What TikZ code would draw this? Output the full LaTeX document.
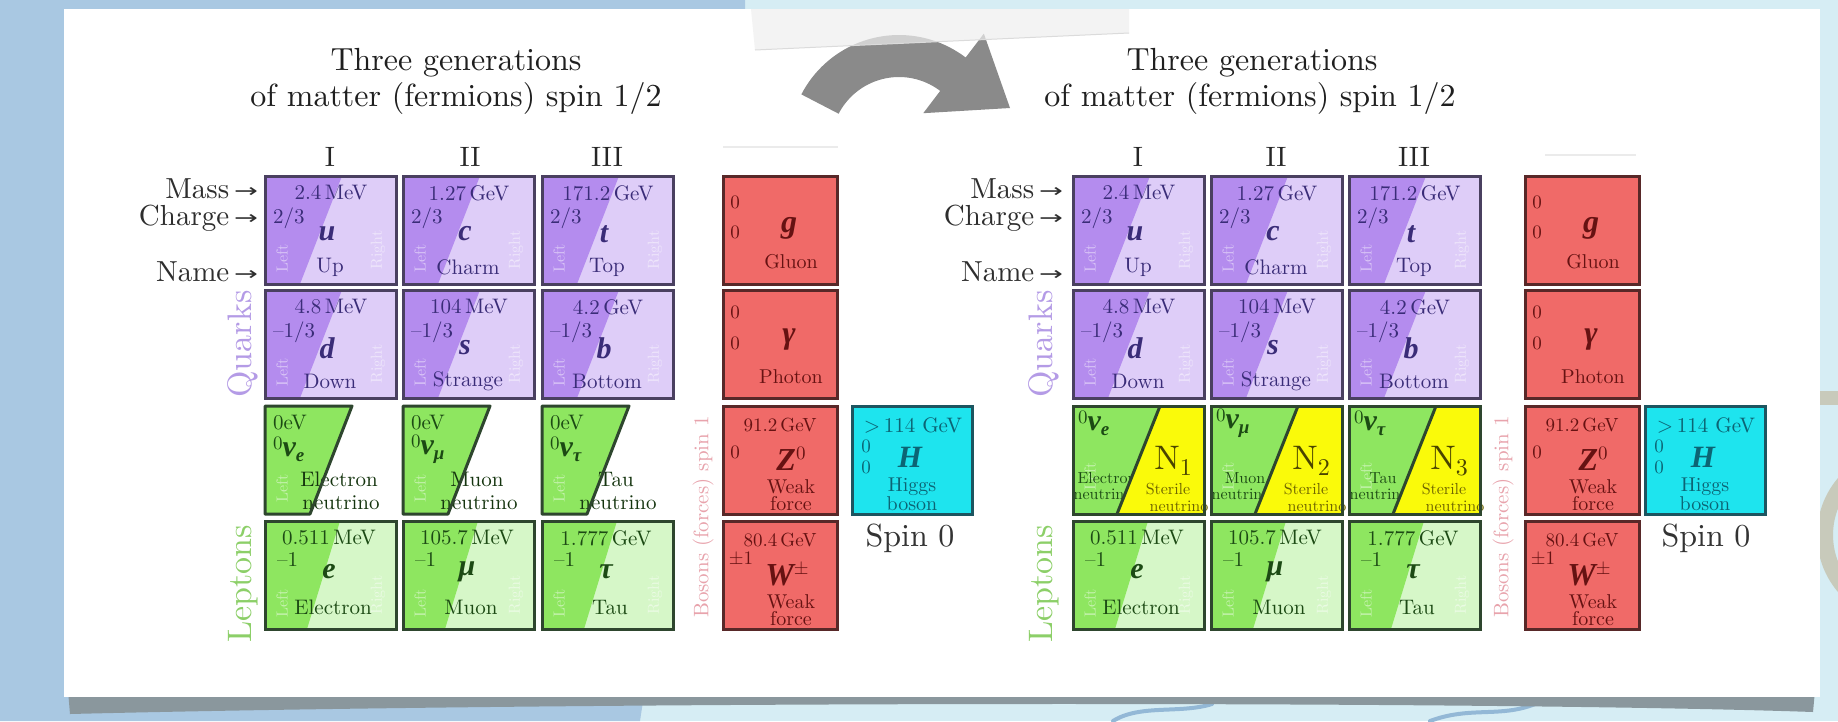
\documentclass[tikz,border=0pt]{standalone}
\usepackage{fontspec}
\usepackage{graphicx}
\setmainfont{lmroman10-regular.otf}[ItalicFont=lmroman10-italic.otf, BoldFont=lmroman10-bold.otf, BoldItalicFont=lmroman10-bolditalic.otf]
\newfontfamily\symfont{Liberation Serif}
\newfontfamily\arrowfont{DejaVu Sans}
\definecolor{qdark}{HTML}{B48CEE}
\definecolor{qlight}{HTML}{DECDF8}
\definecolor{qborder}{HTML}{4A4060}
\definecolor{qtext}{HTML}{3A2C78}
\definecolor{ldark}{HTML}{8EE660}
\definecolor{llight}{HTML}{D6F7C8}
\definecolor{lborder}{HTML}{2E462E}
\definecolor{ltext}{HTML}{1C4A14}
\definecolor{bred}{HTML}{F06A68}
\definecolor{bborder}{HTML}{582828}
\definecolor{btext}{HTML}{661212}
\definecolor{hcyan}{HTML}{1EE4EE}
\definecolor{hborder}{HTML}{1D5560}
\definecolor{htext}{HTML}{0C6474}
\definecolor{nyellow}{HTML}{FAFA0A}
\definecolor{ntext}{HTML}{6E6400}
\definecolor{nlet}{HTML}{4A4400}
\definecolor{bgblue}{HTML}{A9C8E2}
\definecolor{bgcyan}{HTML}{D6EDF4}
\definecolor{quarkcol}{HTML}{B49BE6}
\definecolor{leptoncol}{HTML}{8CCF68}
\definecolor{bosoncol}{HTML}{E8A3AC}
\definecolor{arrowgray}{HTML}{8A8A8A}
\definecolor{tabgray}{HTML}{EEEEEE}
\definecolor{shadowgray}{HTML}{8A979D}
\definecolor{beige}{HTML}{C8CABB}
\definecolor{squig}{HTML}{93B8D6}

\newcommand{\Sym}[1]{{\symfont\bfseries\itshape #1}}
\newcommand{\Sub}[1]{\raisebox{-5pt}{\fontsize{19}{19}\selectfont #1}}
\newcommand{\Sup}[1]{\raisebox{11pt}{\fontsize{19}{19}\selectfont #1}}
\newcommand{\Arr}{\,\raisebox{1pt}{\scalebox{1.5}[1]{\arrowfont\fontsize{19}{19}\selectfont →}}}

\tikzset{
  every node/.style={inner sep=0pt, outer sep=0pt},
  titletxt/.style={font=\fontsize{32}{36}\selectfont, text=black!88},
  numtxt/.style={font=\fontsize{28}{28}\selectfont, text=black!85},
  rowtxt/.style={font=\fontsize{29}{29}\selectfont, text=black!82, anchor=east},
  masstxt/.style={font=\fontsize{21}{21}\selectfont},
  symtxt/.style={font=\fontsize{30}{30}\selectfont},
  nametxt/.style={font=\fontsize{21}{24}\selectfont},
  smalltxt/.style={font=\fontsize{16}{16}\selectfont},
  faint/.style={rotate=90, font=\fontsize{16}{16}\selectfont, text=white, text opacity=0.5},
  qframe/.style={draw=qborder, line width=3pt, minimum width=131pt, minimum height=108pt, anchor=north west},
  lframe/.style={draw=lborder, line width=3pt, minimum width=131pt, minimum height=108pt, anchor=north west},
  rbox/.style={draw=bborder, fill=bred, line width=3pt, minimum width=114pt, minimum height=108pt, anchor=north west},
  hbox/.style={draw=hborder, fill=hcyan, line width=3pt, minimum width=120pt, minimum height=108pt, anchor=north west},
  rsmall/.style={font=\fontsize{19}{19}\selectfont, text=btext},
  rsym/.style={font=\fontsize{32}{32}\selectfont, text=btext},
  rname/.style={font=\fontsize{20}{20}\selectfont, text=btext},
  hsmall/.style={font=\fontsize{19}{19}\selectfont, text=htext},
  grouplab/.style={rotate=90, font=\fontsize{34}{34}\selectfont},
  bosonlab/.style={rotate=90, font=\fontsize{21}{21}\selectfont, text=bosoncol},
  spinlab/.style={font=\fontsize{32}{32}\selectfont, text=black!80},
}

% quark box: name, x, y, mass, charge, symbol, label
\newcommand{\QBox}[7]{%
  \fill[qlight] (#2,#3) rectangle ++(131,108);
  \fill[qdark] (#2,#3) -- ++(77,0) -- ++(-42,108) -- ++(-35,0) -- cycle;
  \path (#2,#3) ++(17,82) node[faint] (#1-l) {Left};
  \path (#2,#3) ++(113,74) node[faint] (#1-r) {Right};
  \node[qframe] (#1) at (#2,#3) {};
  \path (#2,#3) ++(66,17) node[masstxt,text=qtext] (#1-m) {#4};
  \path (#2,#3) ++(8,42) node[masstxt,text=qtext,anchor=west] (#1-c) {#5};
  \path (#2,#3) ++(62,58) node[symtxt,text=qtext] (#1-s) {\Sym{#6}};
  \path (#2,#3) ++(65,91) node[nametxt,text=qtext] (#1-n) {#7};
}
% lepton box
\newcommand{\LBox}[7]{%
  \fill[llight] (#2,#3) rectangle ++(131,108);
  \fill[ldark] (#2,#3) -- ++(75,0) -- ++(-33,108) -- ++(-42,0) -- cycle;
  \path (#2,#3) ++(17,82) node[faint] (#1-l) {Left};
  \path (#2,#3) ++(113,74) node[faint] (#1-r) {Right};
  \node[lframe] (#1) at (#2,#3) {};
  \path (#2,#3) ++(64,17) node[masstxt,text=ltext] (#1-m) {#4};
  \path (#2,#3) ++(12,38) node[masstxt,text=ltext,anchor=west] (#1-c) {#5};
  \path (#2,#3) ++(64,51) node[symtxt,text=ltext] (#1-s) {\Sym{#6}};
  \path (#2,#3) ++(68,86) node[nametxt,text=ltext] (#1-n) {#7};
}
% neutrino, original chart: name, x, y, subscript, label
\newcommand{\NuOld}[5]{%
  \fill[ldark] (#2,#3) -- ++(87,0) -- ++(-42,108) -- ++(-45,0) -- cycle;
  \path (#2,#3) ++(17,82) node[faint] (#1-l) {Left};
  \path (#2,#3) ++(8,17) node[masstxt,text=ltext,anchor=west] (#1-m) {0eV};
  \path (#2,#3) ++(8,43) node[symtxt,text=ltext,anchor=west] (#1-s) {\raisebox{7pt}{\fontsize{19}{19}\selectfont 0}\Sym{ν}\Sub{\Sym{#4}}};
  \path (#2,#3) ++(74,73) node[nametxt,text=ltext!70!black] (#1-n1) {#5};
  \path (#2,#3) ++(76,97) node[nametxt,text=ltext!70!black] (#1-n2) {neutrino};
  \draw[lborder,line width=3pt,line join=round] (#2,#3) -- ++(87,0) -- ++(-42,108) -- ++(-45,0) -- cycle;
  \coordinate (#1) at (#2,#3);
}
% neutrino, extended chart: name, x, y, subscript, label, index
\newcommand{\NuNew}[6]{%
  \fill[ldark] (#2,#3) rectangle ++(131,108);
  \path (#2,#3) ++(17,70) node[faint] (#1-l) {Left};
  \path (#2,#3) ++(5,17) node[symtxt,text=ltext,anchor=west] (#1-s) {\raisebox{7pt}{\fontsize{19}{19}\selectfont 0}\Sym{ν}\Sub{\Sym{#4}}};
  \path (#2,#3) ++(34,72) node[smalltxt,text=ltext] (#1-n1) {#5};
  \path (#2,#3) ++(30,88) node[smalltxt,text=ltext] (#1-n2) {neutrino};
  \fill[nyellow] (#2,#3) ++(87,0) -- ++(44,0) -- ++(0,108) -- ++(-87,0) -- cycle;
  \path (#2,#3) ++(100,55) node[font=\fontsize{34}{34}\selectfont,text=nlet] (#1-N) {N\raisebox{-6pt}{\fontsize{24}{24}\selectfont #6}};
  \path (#2,#3) ++(95,83) node[smalltxt,text=ntext] (#1-st1) {Sterile};
  \path (#2,#3) ++(106,100) node[smalltxt,text=ntext] (#1-st2) {neutrino};
  \draw[lborder,line width=3pt] (#2,#3) ++(87,0) -- ++(-43,108);
  \node[lframe] (#1) at (#2,#3) {};
}
\newcommand{\GluonBox}[3]{%
  \node[rbox] (#1) at (#2,#3) {};
  \path (#2,#3) ++(12,26) node[rsmall] (#1-m) {0};
  \path (#2,#3) ++(12,56) node[rsmall] (#1-c) {0};
  \path (#2,#3) ++(66,52) node[rsym] (#1-s) {\Sym{g}};
  \path (#2,#3) ++(68,86) node[rname] (#1-n) {Gluon};
}
\newcommand{\PhotonBox}[3]{%
  \node[rbox] (#1) at (#2,#3) {};
  \path (#2,#3) ++(12,22) node[rsmall] (#1-m) {0};
  \path (#2,#3) ++(12,53) node[rsmall] (#1-c) {0};
  \path (#2,#3) ++(66,50) node[rsym] (#1-s) {\Sym{γ}};
  \path (#2,#3) ++(68,87) node[rname] (#1-n) {Photon};
}
\newcommand{\ZBox}[3]{%
  \node[rbox] (#1) at (#2,#3) {};
  \path (#2,#3) ++(57,19) node[rsmall] (#1-m) {91.2\,GeV};
  \path (#2,#3) ++(12,46) node[rsmall] (#1-c) {0};
  \path (#2,#3) ++(68,53) node[rsym] (#1-s) {\Sym{Z}\Sup{0}};
  \path (#2,#3) ++(68,81) node[rname] (#1-n1) {Weak};
  \path (#2,#3) ++(68,98) node[rname] (#1-n2) {force};
}
\newcommand{\WBox}[3]{%
  \node[rbox] (#1) at (#2,#3) {};
  \path (#2,#3) ++(57,19) node[rsmall] (#1-m) {80.4\,GeV};
  \path (#2,#3) ++(18,37) node[rsmall] (#1-c) {±1};
  \path (#2,#3) ++(64,53) node[rsym] (#1-s) {\Sym{W}\Sup{±}};
  \path (#2,#3) ++(68,81) node[rname] (#1-n1) {Weak};
  \path (#2,#3) ++(68,98) node[rname] (#1-n2) {force};
}
\newcommand{\HiggsBox}[3]{%
  \node[hbox] (#1) at (#2,#3) {};
  \path (#2,#3) ++(61,20) node[font=\fontsize{21}{21}\selectfont,text=htext] (#1-m) {>\,114 GeV};
  \path (#2,#3) ++(14,40) node[hsmall] (#1-c) {0};
  \path (#2,#3) ++(14,61) node[hsmall] (#1-sp) {0};
  \path (#2,#3) ++(58,51) node[font=\fontsize{31}{31}\selectfont,text=htext] (#1-s) {\Sym{H}};
  \path (#2,#3) ++(60,81) node[font=\fontsize{20}{20}\selectfont,text=htext] (#1-n1) {Higgs};
  \path (#2,#3) ++(60,98) node[font=\fontsize{20}{20}\selectfont,text=htext] (#1-n2) {boson};
}

\begin{document}
\begin{tikzpicture}[x=1pt,y=-1pt]
\useasboundingbox (0,0) rectangle (1838,721);
% background
\fill[bgcyan] (0,0) rectangle (1838,721);
\fill[bgblue] (0,0) -- (745,0) -- (745,30) -- (640,721) -- (0,721) -- cycle;
\draw[squig, line width=4pt, line cap=round] (1113,721) .. controls (1140,704) and (1180,714) .. (1212,704);
\draw[squig, line width=4pt, line cap=round] (1430,721) .. controls (1470,706) and (1500,718) .. (1535,704) .. controls (1555,698) .. (1578,702);
\fill[beige] (1820,391) rectangle (1838,405);
\draw[beige, line width=16pt] (1905,535) circle (80);
% shadow and panel
\fill[shadowgray] (68,690) -- (1815,690) -- (1813,712) .. controls (1500,701) and (600,701) .. (70,714) -- cycle;
\fill[white] (64,9) rectangle (1820,697);
% curved arrow
\fill[arrowgray] plot[domain=152.6:52.7, samples=40] ({899+110*cos(\x)},{145-110*sin(\x)})
  -- ({899+140*cos(52.7)},{145-140*sin(52.7)}) -- (1010,108)
  -- ({899+40*cos(52.7)},{145-40*sin(52.7)})
  -- plot[domain=52.7:152.6, samples=40] ({899+68*cos(\x)},{145-68*sin(\x)}) -- cycle;
% tape tab (over the arrow)
\fill[tabgray, fill opacity=0.7] (751,9) -- (1129,9) -- (1129,33) -- (755,50) -- cycle;
\draw[black!14, line width=1pt] (1129,33) -- (755,50);
% faint lines above gluon boxes
\draw[black!8, line width=2pt] (723,147) -- (838,147);
\draw[black!8, line width=2pt] (1545,155) -- (1636,155);

% ===== left chart =====
\node[titletxt] (ttlL1) at (456,63) {Three generations};
\node[titletxt] (ttlL2) at (456,98) {of matter (fermions) spin 1/2};
\node[numtxt] (g1L) at (330,157) {I};
\node[numtxt] (g2L) at (470,157) {II};
\node[numtxt] (g3L) at (607,157) {III};
\node[rowtxt] (massL) at (258,189) {Mass\Arr};
\node[rowtxt] (chargeL) at (258,218) {Charge\Arr};
\node[rowtxt] (nameL) at (258,272) {Name\Arr};
\node[grouplab, text=quarkcol] (quarksL) at (243,344) {Quarks};
\node[grouplab, text=leptoncol] (leptonsL) at (243,584) {Leptons};
\node[bosonlab] (bosonsL) at (703,517) {Bosons (forces) spin 1};

\QBox{uL}{265}{176}{2.4\,MeV}{2/3}{u}{Up}
\QBox{cL}{403}{176}{1.27\,GeV}{2/3}{c}{Charm}
\QBox{tL}{542}{176}{171.2\,GeV}{2/3}{t}{Top}
\QBox{dL}{265}{290}{4.8\,MeV}{–1/3}{d}{Down}
\QBox{sL}{403}{290}{104\,MeV}{–1/3}{s}{Strange}
\QBox{bL}{542}{290}{4.2\,GeV}{–1/3}{b}{Bottom}
\NuOld{neL}{265}{406}{e}{Electron}
\NuOld{nmL}{403}{406}{μ}{Muon}
\NuOld{ntL}{542}{406}{τ}{Tau}
\LBox{eL}{265}{521}{0.511\,MeV}{–1}{e}{Electron}
\LBox{mL}{403}{521}{105.7\,MeV}{–1}{μ}{Muon}
\LBox{taL}{542}{521}{1.777\,GeV}{–1}{τ}{Tau}
\GluonBox{gL}{723}{176}
\PhotonBox{phL}{723}{290}
\ZBox{zL}{723}{406}
\WBox{wL}{723}{521}
\HiggsBox{hL}{852}{406}
\node[spinlab] (spinL) at (910,538) {Spin 0};

% ===== right chart =====
\node[titletxt] (ttlR1) at (1252,63) {Three generations};
\node[titletxt] (ttlR2) at (1250,98) {of matter (fermions) spin 1/2};
\node[numtxt] (g1R) at (1138,157) {I};
\node[numtxt] (g2R) at (1276,157) {II};
\node[numtxt] (g3R) at (1414,157) {III};
\node[rowtxt] (massR) at (1063,189) {Mass\Arr};
\node[rowtxt] (chargeR) at (1063,218) {Charge\Arr};
\node[rowtxt] (nameR) at (1063,272) {Name\Arr};
\node[grouplab, text=quarkcol] (quarksR) at (1044,344) {Quarks};
\node[grouplab, text=leptoncol] (leptonsR) at (1044,584) {Leptons};
\node[bosonlab] (bosonsR) at (1503,517) {Bosons (forces) spin 1};

\QBox{uR}{1073}{176}{2.4\,MeV}{2/3}{u}{Up}
\QBox{cR}{1211}{176}{1.27\,GeV}{2/3}{c}{Charm}
\QBox{tR}{1349}{176}{171.2\,GeV}{2/3}{t}{Top}
\QBox{dR}{1073}{290}{4.8\,MeV}{–1/3}{d}{Down}
\QBox{sR}{1211}{290}{104\,MeV}{–1/3}{s}{Strange}
\QBox{bR}{1349}{290}{4.2\,GeV}{–1/3}{b}{Bottom}
\NuNew{neR}{1073}{406}{e}{Electron}{1}
\NuNew{nmR}{1211}{406}{μ}{Muon}{2}
\NuNew{ntR}{1349}{406}{τ}{Tau}{3}
\LBox{eR}{1073}{521}{0.511\,MeV}{–1}{e}{Electron}
\LBox{mR}{1211}{521}{105.7\,MeV}{–1}{μ}{Muon}
\LBox{taR}{1349}{521}{1.777\,GeV}{–1}{τ}{Tau}
\GluonBox{gR}{1525}{176}
\PhotonBox{phR}{1525}{290}
\ZBox{zR}{1525}{406}
\WBox{wR}{1525}{521}
\HiggsBox{hR}{1645}{406}
\node[spinlab] (spinR) at (1706,538) {Spin 0};
\end{tikzpicture}
\end{document}
